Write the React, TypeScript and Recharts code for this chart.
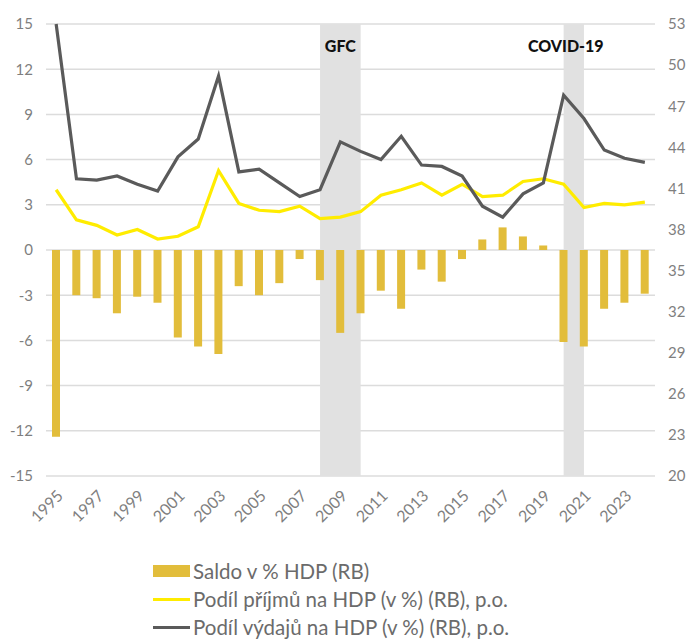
import React from 'react'
import {
  ComposedChart,
  Bar,
  Line,
  XAxis,
  YAxis,
  CartesianGrid,
  ReferenceArea,
  Legend,
} from 'recharts'

// ─── Data ─────────────────────────────────────────────────────────────────────

const years = [
  '1995', '1996', '1997', '1998', '1999', '2000', '2001', '2002', '2003', '2004',
  '2005', '2006', '2007', '2008', '2009', '2010', '2011', '2012', '2013', '2014',
  '2015', '2016', '2017', '2018', '2019', '2020', '2021', '2022', '2023', '2024',
]

// Saldo v % HDP (left axis)
const saldo = [
  -12.4, -3.0, -3.2, -4.2, -3.1, -3.5, -5.8, -6.4, -6.9, -2.4,
  -3.0, -2.2, -0.6, -2.0, -5.5, -4.2, -2.7, -3.9, -1.3, -2.1,
  -0.6, 0.7, 1.5, 0.9, 0.3, -6.1, -6.4, -3.9, -3.5, -2.9,
]

// Podíl příjmů na HDP (right axis)
const revenue = [
  40.9, 38.7, 38.3, 37.6, 38.0, 37.3, 37.5, 38.2, 42.3, 39.9,
  39.4, 39.3, 39.7, 38.8, 38.9, 39.3, 40.5, 40.9, 41.4, 40.5,
  41.3, 40.4, 40.5, 41.5, 41.7, 41.3, 39.6, 39.9, 39.8, 40.0,
]

// Podíl výdajů na HDP (right axis)
const expenditure = [
  53.0, 41.7, 41.6, 41.9, 41.3, 40.8, 43.3, 44.6, 49.2, 42.2,
  42.4, 41.4, 40.4, 40.9, 44.4, 43.7, 43.1, 44.8, 42.7, 42.6,
  41.9, 39.7, 38.9, 40.6, 41.4, 47.8, 46.1, 43.8, 43.2, 42.9,
]

const leftTicks = [-15, -12, -9, -6, -3, 0, 3, 6, 9, 12, 15]
const rightTicks = [20, 23, 26, 29, 32, 35, 38, 41, 44, 47, 50, 53]

// shaded periods (first year, last year) + label
const gfc = { from: 2008, to: 2010, label: 'GFC' }
const covid = { from: 2020, to: 2021, label: 'COVID-19' }

// legend order as in the original
const legendOrder = ['saldo', 'revenue', 'expenditure']

const data = years.map((y, i) => ({
  year: y,
  yearNum: Number(y),
  saldo: saldo[i],
  revenue: revenue[i],
  expenditure: expenditure[i],
}))

// ─── Styles ───────────────────────────────────────────────────────────────────

const FONT = 'Lato, "Open Sans", sans-serif'
const TICK_COLOR = '#7f7f7f'

function YearTick({ x, y, payload }: any) {
  return (
    <g transform={`translate(${x + 4},${y + 9})`}>
      <text
        x={0}
        y={0}
        dy="0.35em"
        transform="rotate(-45)"
        textAnchor="end"
        fill={TICK_COLOR}
        fontSize={16}
        fontFamily={FONT}
      >
        {payload.value}
      </text>
    </g>
  )
}

const shadeLabel = (text: string, shift: number) => (props: any) => {
  const vb = props.viewBox
  if (!vb) return null
  return (
    <text
      x={vb.x + vb.width / 2 + shift}
      y={vb.y + 28}
      textAnchor="middle"
      fill="#111"
      fontSize={16}
      fontWeight={900}
      fontFamily={FONT}
    >
      {text}
    </text>
  )
}

function LegendBox({ payload }: any) {
  const items = [...(payload || [])].sort(
    (a: any, b: any) => legendOrder.indexOf(a.dataKey) - legendOrder.indexOf(b.dataKey)
  )
  return (
    <div style={{ height: 84, paddingLeft: 153, paddingTop: 2, fontFamily: FONT }}>
      {items.map((entry: any, i: number) => (
        <div key={i} style={{ display: 'flex', alignItems: 'center', height: 28 }}>
          {entry.type === 'rect' ? (
            <span style={{ display: 'inline-block', width: 37, height: 12, background: entry.color }} />
          ) : (
            <span style={{ display: 'inline-block', width: 37, height: 3, background: entry.color }} />
          )}
          <span style={{ marginLeft: 3, fontSize: 20.5, color: '#6b6b6b' }}>{entry.value}</span>
        </div>
      ))}
    </div>
  )
}

// ─── Chart ────────────────────────────────────────────────────────────────────

export default function App() {
  return (
    <div style={{ position: 'absolute', left: 0, top: 0, background: '#fff' }}>
      <ComposedChart
        width={699}
        height={641}
        data={data}
        margin={{ top: 24, right: 0, bottom: 0, left: 0 }}
      >
        <CartesianGrid
          yAxisId="left"
          vertical={false}
          stroke="#dcdcdc"
          strokeWidth={1.5}
        />
        <XAxis
          xAxisId="cat"
          dataKey="year"
          interval={1}
          axisLine={false}
          tickLine={false}
          height={79}
          tick={<YearTick />}
        />
        <XAxis
          xAxisId="num"
          dataKey="yearNum"
          type="number"
          domain={[1994.5, 2024.5]}
          allowDataOverflow
          hide
        />
        <YAxis
          yAxisId="left"
          domain={[-15, 15]}
          ticks={leftTicks}
          interval={0}
          axisLine={false}
          tickLine={false}
          tickMargin={7}
          width={46}
          tick={{ fontSize: 15, fill: TICK_COLOR, fontFamily: FONT }}
        />
        <YAxis
          yAxisId="right"
          orientation="right"
          domain={[20, 53]}
          ticks={rightTicks}
          interval={0}
          axisLine={false}
          tickLine={false}
          tickMargin={7}
          width={44}
          tick={{ fontSize: 15, fill: TICK_COLOR, fontFamily: FONT, textAnchor: 'start' }}
        />
        <ReferenceArea
          xAxisId="num"
          yAxisId="left"
          x1={gfc.from}
          x2={gfc.to}
          fill="#e1e1e1"
          fillOpacity={1}
          stroke="none"
          label={shadeLabel(gfc.label, 0)}
        />
        <ReferenceArea
          xAxisId="num"
          yAxisId="left"
          x1={covid.from}
          x2={covid.to}
          fill="#e1e1e1"
          fillOpacity={1}
          stroke="none"
          label={shadeLabel(covid.label, -8)}
        />
        <Legend verticalAlign="bottom" align="left" content={<LegendBox />} />
        <Bar
          xAxisId="cat"
          yAxisId="left"
          dataKey="saldo"
          name="Saldo v % HDP (RB)"
          fill="#e2bd3b"
          barSize={8}
          isAnimationActive={false}
        />
        <Line
          xAxisId="cat"
          yAxisId="right"
          dataKey="revenue"
          name="Podíl příjmů na HDP (v %) (RB), p.o."
          stroke="#ffec00"
          strokeWidth={3.2}
          dot={false}
          isAnimationActive={false}
        />
        <Line
          xAxisId="cat"
          yAxisId="right"
          dataKey="expenditure"
          name="Podíl výdajů na HDP (v %) (RB), p.o."
          stroke="#5a5a5a"
          strokeWidth={3.2}
          dot={false}
          isAnimationActive={false}
        />
      </ComposedChart>
    </div>
  )
}
